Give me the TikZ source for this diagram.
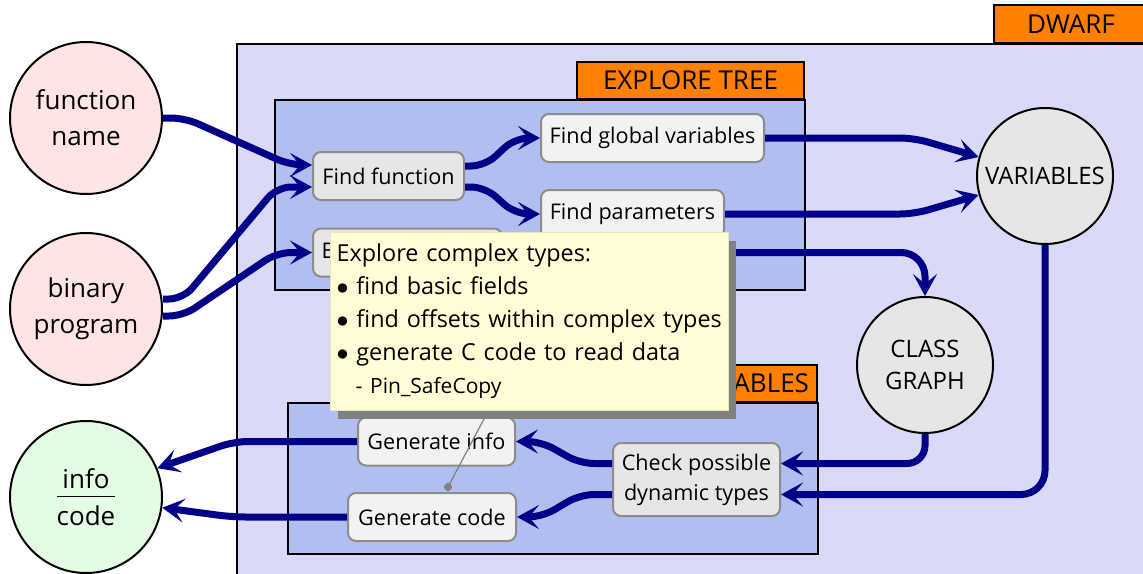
\documentclass[tikz,border=0pt]{standalone}
\usepackage{fontspec}
\setmainfont{Open Sans}
\usetikzlibrary{arrows.meta,positioning,calc,shadows}

\definecolor{dwarfbg}{HTML}{DADAF8}
\definecolor{stagebg}{HTML}{B3BEF0}
\definecolor{taborange}{HTML}{FF8000}
\definecolor{flow}{HTML}{000088}
\definecolor{inpink}{HTML}{FFE4E4}
\definecolor{outgreen}{HTML}{E4FCE4}
\definecolor{datagray}{HTML}{E6E6E6}
\definecolor{stepgray}{HTML}{F2F2F2}
\definecolor{notebg}{HTML}{FFFCD6}
\definecolor{noteline}{HTML}{EDE6B0}

\begin{document}
\begin{tikzpicture}[x=0.5pt,y=-0.5pt,
    tab/.style={draw=black,line width=1pt,fill=taborange,inner sep=0pt,font=\fontsize{13}{15}\selectfont},
    datanode/.style={circle,draw=black,line width=1pt,fill=datagray,minimum size=68pt,inner sep=0pt,align=center,font=\fontsize{12}{16}\selectfont},
    iocircle/.style={circle,draw=black,line width=1pt,minimum size=76pt,inner sep=0pt,align=center,font=\fontsize{13}{18}\selectfont},
    stepbox/.style={rectangle,rounded corners=4pt,draw=black!45,line width=1pt,fill=stepgray,minimum height=24pt,inner xsep=4pt,align=center,font=\fontsize{10.8}{15}\selectfont},
    flowarrow/.style={-{Stealth[length=11pt,width=12pt,inset=5pt]},draw=flow,line width=3.5pt,rounded corners=7pt},
    note/.style={draw=noteline,line width=0.6pt,fill=notebg,inner xsep=3pt,inner ysep=4pt,align=left,
        drop shadow={shadow xshift=3.5pt,shadow yshift=-4pt,opacity=1,fill=black!50},font=\fontsize{11.7}{16.5}\selectfont}
  ]
  \useasboundingbox (0,0) rectangle (1143,573);

  % DWARF area
  \draw[fill=dwarfbg,line width=1pt] (237,44) rectangle (1160,590);
  \node[tab,anchor=south west,minimum width=77pt,minimum height=19pt] (dwarftab) at (993,44) {DWARF};

  % Stages
  \draw[fill=stagebg,line width=1.2pt] (275,100) rectangle (805,290);
  \node[tab,anchor=south east,minimum width=113.5pt,minimum height=18.5pt] (treetab) at (805,100) {EXPLORE TREE};
  \draw[fill=stagebg,line width=1.2pt] (288,403) rectangle (818,554);
  \node[tab,anchor=south east,inner xsep=4pt,minimum height=18.5pt] (vartab) at (818,403) {VARIABLES};

  % Inputs and output
  \node[iocircle,fill=inpink] (fname) at (86,118) {function\\name};
  \node[iocircle,fill=inpink] (bprog) at (86,309) {binary\\program};
  \node[iocircle,fill=outgreen] (iocode) at (86,497) {info\\[-13.5pt]\rule{29pt}{0.7pt}\\[-4pt]code};

  % Data
  \node[datanode] (vars) at (1045,176) {VARIABLES};
  \node[datanode] (cgraph) at (925,365) {CLASS\\GRAPH};

  % Steps
  \node[stepbox,fill=datagray,minimum width=75.5pt] (ffunc) at (388.5,176) {Find function};
  \node[stepbox,minimum width=111.5pt] (fglob) at (652.5,138) {Find global variables};
  \node[stepbox,minimum width=91.5pt] (fpar) at (632.5,214) {Find parameters};
  \node[stepbox,fill=datagray,minimum width=94.5pt,text width=86pt,align=left] (ebox) at (407.5,252.5) {Explore complex};
  \node[stepbox,minimum width=78.5pt] (ginfo) at (436.5,441.5) {Generate info};
  \node[stepbox,minimum width=84pt] (gcode) at (432,517) {Generate code};
  \node[stepbox,fill=datagray,minimum width=83.5pt,minimum height=36.5pt] (check) at (696.5,479.5) {Check possible\\dynamic types};

  % Flow
  \draw[flowarrow] (fname.east) -- ++(22,0) -- ($(ffunc.west)+(-22,-11)$) -- ($(ffunc.west)+(0,-11)$);
  \draw[flowarrow] ($(bprog.east)+(0,-10)$) -- ++(20,0) -- ($(ffunc.west)+(-35,11)$) -- ($(ffunc.west)+(0,11)$);
  \draw[flowarrow] ($(bprog.east)+(0,7)$) -- ++(20,0) -- ($(ebox.west)+(-35,0)$) -- (ebox.west);
  \draw[flowarrow] ($(ffunc.east)+(0,-10)$) -- ++(20,0) -- ($(fglob.west)+(-25,0)$) -- (fglob.west);
  \draw[flowarrow] ($(ffunc.east)+(0,11)$) -- ++(20,0) -- ($(fpar.west)+(-25,0)$) -- (fpar.west);
  \draw[flowarrow] (fglob.east) -- ($(fglob.east -| vars.west)+(-62,0)$) -- (vars.164);
  \draw[flowarrow] (fpar.east) -- ($(fpar.east -| vars.west)+(-62,0)$) -- (vars.196);
  \draw[flowarrow,rounded corners=12pt] (ebox.east) -| (cgraph.north);
  \draw[flowarrow,rounded corners=9pt] (cgraph.south) |- ($(check.east)+(0,-16)$);
  \draw[flowarrow,rounded corners=12pt] (vars.south) |- ($(check.east)+(0,15)$);
  \draw[flowarrow] ($(check.west)+(0,-16)$) -- ++(-32,0) -- ($(ginfo.east)+(25,0)$) -- (ginfo.east);
  \draw[flowarrow] ($(check.west)+(0,15)$) -- ++(-32,0) -- ($(gcode.east)+(25,0)$) -- (gcode.east);
  \draw[flowarrow] (ginfo.west) -- ++(-123,0) -- (iocode.22);
  \draw[flowarrow] (gcode.west) -- ++(-115,0) -- (iocode.-8);

  % Pin of the note
  \coordinate (pin) at (448,487);
  \coordinate (pinend) at (494,400);
  \draw[black!50,line width=0.6pt] (pin) -- (pinend);
  \fill[black!50] (pin) circle (2pt);

  % Note
  \node[note,anchor=north west,text width=193pt,minimum height=89pt] (tip) at (330,232)
    {Explore complex types:\\
     $\bullet$ find basic fields\\
     $\bullet$ find offsets within complex types\\
     $\bullet$ generate C code to read data\\
     \hspace*{9.5pt}{\fontsize{10.5}{16.5}\selectfont - Pin\_SafeCopy}};
\end{tikzpicture}
\end{document}
